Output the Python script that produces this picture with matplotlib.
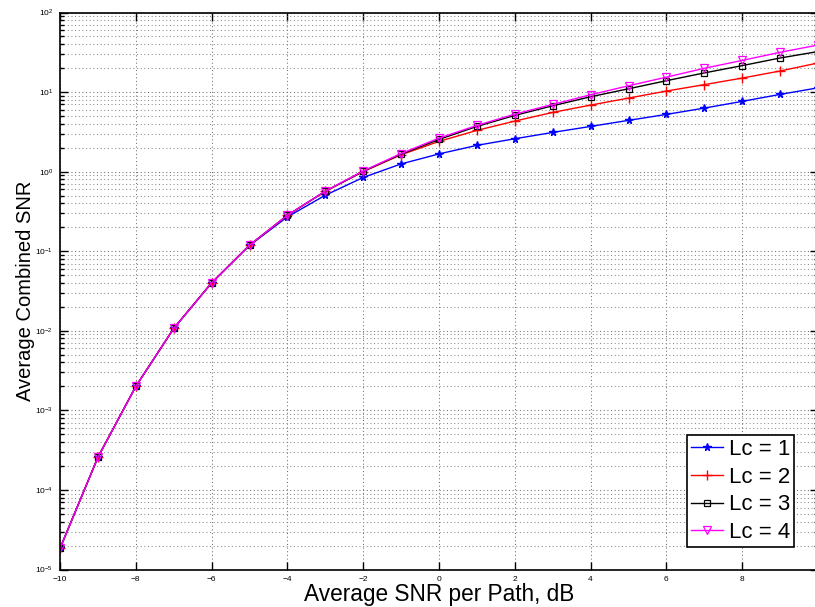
import numpy as np
import matplotlib
matplotlib.use("Agg")
import matplotlib.pyplot as plt
from matplotlib.ticker import LogLocator, NullFormatter

plt.rcParams['font.family'] = ['Liberation Sans', 'DejaVu Sans']
plt.rcParams['mathtext.fontset'] = 'custom'
plt.rcParams['mathtext.rm'] = 'Liberation Sans'
plt.rcParams['mathtext.it'] = 'Liberation Sans:italic'

# Average SNR per path (dB)
snr_db = [-10, -9, -8, -7, -6, -5, -4, -3, -2, -1, 0, 1, 2, 3, 4, 5, 6, 7, 8, 9, 10]

# Average combined SNR for Lc combined paths
lc1 = [1.84e-5, 2.57e-4, 2.0e-3, 1.07e-2, 0.040, 0.118, 0.270, 0.505, 0.845, 1.25,
       1.67, 2.14, 2.59, 3.11, 3.70, 4.41, 5.24, 6.29, 7.64, 9.35, 11.3]
lc2 = [1.84e-5, 2.57e-4, 2.0e-3, 1.07e-2, 0.040, 0.119, 0.282, 0.565, 1.00, 1.63,
       2.40, 3.30, 4.32, 5.55, 6.86, 8.40, 10.3, 12.4, 15.0, 18.4, 23.2]
lc3 = [1.84e-5, 2.57e-4, 2.0e-3, 1.07e-2, 0.040, 0.119, 0.283, 0.568, 1.01, 1.66,
       2.54, 3.70, 5.09, 6.73, 8.73, 11.0, 13.9, 17.4, 21.5, 26.8, 32.3]
lc4 = [1.84e-5, 2.57e-4, 2.0e-3, 1.07e-2, 0.040, 0.119, 0.284, 0.570, 1.02, 1.69,
       2.64, 3.81, 5.28, 7.00, 9.25, 12.0, 15.4, 19.9, 25.0, 31.6, 39.0]

labels = ["Lc = 1", "Lc = 2", "Lc = 3", "Lc = 4"]
x_ticks = [-10, -8, -6, -4, -2, 0, 2, 4, 6, 8]

W, H = 815, 607
fig = plt.figure(figsize=(W / 100, H / 100), dpi=100)
ax = fig.add_axes([60 / W, (H - 569.5) / H, (818 - 60) / W, (569.5 - 12.5) / H])

ax.semilogy(snr_db, lc1, color='#0000ff', marker='*', markersize=5.5, lw=1.0, label=labels[0])
ax.semilogy(snr_db, lc2, color='#ff0000', marker='+', markersize=6.5, lw=1.0, label=labels[1])
ax.semilogy(snr_db, lc3, color='#000000', marker='s', markersize=5, mfc='none', mew=0.9,
            lw=1.0, label=labels[2])
ax.semilogy(snr_db, lc4, color='#ff00ff', marker='v', markersize=6, mfc='none', mew=0.9,
            lw=1.0, label=labels[3])

ax.set_xlim(-10, 10)
ax.set_ylim(1e-5, 1e2)
ax.set_xticks(x_ticks)
ax.yaxis.set_major_locator(LogLocator(base=10, numticks=10))
ax.yaxis.set_minor_locator(LogLocator(base=10, subs=np.arange(2, 10), numticks=100))
ax.yaxis.set_minor_formatter(NullFormatter())

ax.grid(True, which='major', axis='both', linestyle=(0, (1, 2.5)), color='#707070', lw=0.75)
ax.grid(True, which='minor', axis='y', linestyle=(0, (1, 2.5)), color='#8a8a8a', lw=0.75)

ax.tick_params(which='both', direction='in', top=True, right=True, labelsize=6, width=1.0)
ax.tick_params(which='major', length=6)
ax.tick_params(which='minor', length=3)
ax.tick_params(axis='x', pad=5)
ax.tick_params(axis='y', pad=5)
for s in ax.spines.values():
    s.set_linewidth(1.2)

ax.set_xlabel("Average SNR per Path, dB", fontsize=16.3, labelpad=0)
ax.set_ylabel("Average Combined SNR", fontsize=14.5, labelpad=0)

leg = ax.legend(loc='lower right', bbox_to_anchor=(794 / W, (H - 547) / H),
                bbox_transform=fig.transFigure, fontsize=16, frameon=True, fancybox=False,
                edgecolor='black', framealpha=1, handlelength=1.45, handletextpad=0.25,
                borderpad=0.18, labelspacing=0.3, borderaxespad=0)
leg.get_frame().set_linewidth(1.2)

fig.savefig("out.png", dpi=100)
